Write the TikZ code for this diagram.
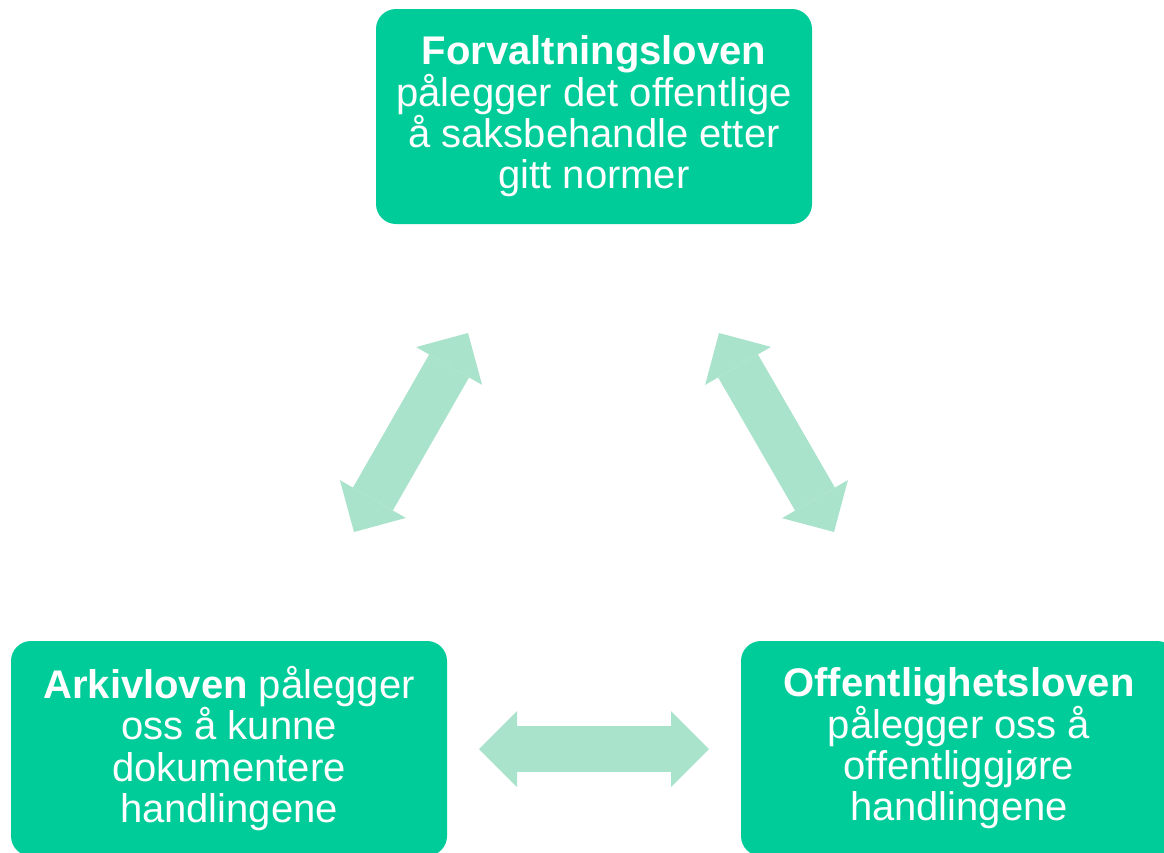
\documentclass[tikz,border=0pt]{standalone}
\usepackage{fontspec}
\setmainfont{Liberation Sans}
\usetikzlibrary{arrows.meta}
\definecolor{boxgreen}{HTML}{00CC99}
\definecolor{arrowgreen}{HTML}{AAE3CB}
\tikzset{
  lawbox/.style={fill=boxgreen, draw=none, rounded corners=20pt,
    minimum width=436pt, minimum height=215pt, inner sep=0pt,
    text=white, align=center, font=\fontsize{40}{41.3}\selectfont},
  blockarrow/.style={draw=arrowgreen, line width=46pt,
    {Triangle[length=38pt,width=76pt,line width=0pt,fill=arrowgreen]}-{Triangle[length=38pt,width=76pt,line width=0pt,fill=arrowgreen]}}
}
\begin{document}
\begin{tikzpicture}[x=1pt,y=-1pt]
\useasboundingbox (0,0) rectangle (1164,852);
\clip (0,0) rectangle (1164,852);
\fill[white] (0,0) rectangle (1164,852);
\node[lawbox] (forv) at (594,116.5) {\textbf{Forvaltningsloven}\\pålegger det offentlige\\å saksbehandle etter\\gitt normer};
\node[lawbox] (arkiv) at (229,748.5) {\textbf{Arkivloven} pålegger\\oss å kunne\\dokumentere\\handlingene};
\node[lawbox] (offl) at (959,748.5) {\textbf{Offentlighetsloven}\\pålegger oss å\\offentliggjøre\\handlingene};
\coordinate (hA) at (479,749);
\coordinate (hB) at (709,749);
\coordinate (lA) at (354,532);
\coordinate (lB) at (468,333);
\coordinate (rA) at (834,532);
\coordinate (rB) at (719,333);
\draw[blockarrow] (hA) -- (hB);
\draw[blockarrow] (lA) -- (lB);
\draw[blockarrow] (rA) -- (rB);
\end{tikzpicture}
\end{document}
